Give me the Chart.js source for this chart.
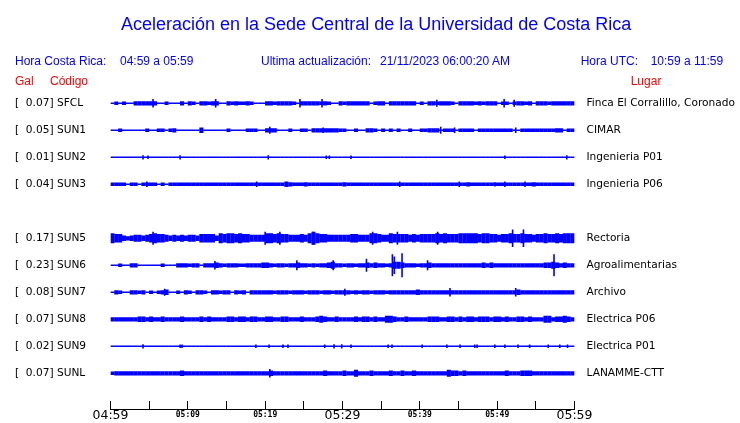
<!DOCTYPE html>
<html>
<head>
<meta charset="utf-8">
<script src="https://cdn.jsdelivr.net/npm/chart.js@4.4.0/dist/chart.umd.min.js"></script>
<style>
html,body{margin:0;padding:0;background:#fff;}
#wrap{position:relative;width:740px;height:423px;overflow:hidden;background:#fff;}
canvas{position:absolute;left:0;top:0;}
.t{position:absolute;white-space:pre;font-family:"Liberation Sans",Arial,sans-serif;font-size:12px;line-height:12px;color:#0000ff;}
.r{color:#ff0000;}
#title{font-size:18px;line-height:18px;}
</style>
</head>
<body>
<div id="wrap">
<canvas id="c" width="740" height="423"></canvas>
<div class="t" id="title" style="left:121px;top:14.8px">Aceleración en la Sede Central de la Universidad de Costa Rica</div>
<div class="t" style="left:15px;top:54.8px">Hora Costa Rica:</div>
<div class="t" style="left:120px;top:54.8px">04:59 a 05:59</div>
<div class="t" style="left:261px;top:54.8px">Ultima actualización:</div>
<div class="t" style="left:380px;top:54.8px">21/11/2023 06:00:20 AM</div>
<div class="t" style="left:580.7px;top:54.8px">Hora UTC:</div>
<div class="t" style="left:650.7px;top:54.8px">10:59 a 11:59</div>
<div class="t r" style="left:15px;top:74.8px">Gal</div>
<div class="t r" style="left:50px;top:74.8px">Código</div>
<div class="t r" style="left:630.7px;top:74.8px">Lugar</div>
</div>
<script>
// ---------------- DATA ----------------
const stationCodes  = ["SFCL","SUN1","SUN2","SUN3","SUN5","SUN6","SUN7","SUN8","SUN9","SUNL"];
const stationPlaces = ["Finca El Corralillo, Coronado","CIMAR","Ingenieria P01","Ingenieria P06","Rectoria","Agroalimentarias","Archivo","Electrica P06","Electrica P01","LANAMME-CTT"];
const galPeaks      = [0.07,0.05,0.01,0.04,0.17,0.23,0.08,0.07,0.02,0.07];
const stationRows   = [0,1,2,3,5,6,7,8,9,10];   // trace slot (slot 4 is empty)

const tickMinutes   = [0,10,20,30,40,50,60];
const tickLabels    = ["04:59","05:09","05:19","05:29","05:39","05:49","05:59"];
const bigTickMinutes = [0,30,60];

const BIN_MINUTES = 0.5; // each envelope value covers half a minute (120 per hour)

// envelope amplitude levels (0..11), one per half-minute
const envSFCL = [1,2,1,2,1,1,3,3,3,3, 3,3,1,1,2,1,1,1,3,1, 3,2,1,3,3,2,3,3,1,1, 3,2,3,2,2,3,2,1,1,1,
                 3,3,2,3,3,3,3,2,1,3, 3,3,3,3,2,3,2,1,1,3, 2,3,3,3,3,3,3,1,2,3, 3,1,3,3,3,3,3,3,3,1,
                 2,1,3,3,2,3,3,3,2,1, 3,3,3,3,2,3,2,3,3,3, 1,2,2,1,2,3,3,2,3,1, 3,3,3,2,3,3,3,3,3,3];
const envSUN1 = [1,1,2,1,1,1,1,1,1,2, 1,1,2,2,1,2,3,1,1,1, 1,1,1,4,1,1,1,1,1,1, 2,1,1,1,1,2,2,2,1,1,
                 3,3,3,1,1,1,2,1,1,2, 2,1,3,3,3,3,3,3,3,2, 2,1,1,2,1,1,3,3,2,1, 2,1,2,1,2,1,1,2,1,1,
                 2,2,3,3,3,1,2,2,2,1, 2,2,2,2,1,2,2,2,2,2, 2,2,2,2,1,1,2,2,2,2, 2,2,2,2,2,3,3,1,2,2];
const envSUN2 = [1,1,1,1,1,1,1,1,1,1, 1,1,1,1,1,1,1,1,1,1, 1,1,1,1,1,1,1,1,1,1, 1,1,1,1,1,1,1,1,1,1,
                 1,1,1,1,1,1,1,1,1,1, 1,1,1,1,1,1,1,1,1,1, 1,1,1,1,1,1,1,1,1,1, 1,1,1,1,1,1,1,1,1,1,
                 1,1,1,1,1,1,1,1,1,1, 1,1,1,1,1,1,1,1,1,1, 1,1,1,1,1,1,1,1,1,1, 1,1,1,1,1,1,1,1,1,1];
const envSUN3 = [2,2,2,2,1,2,2,1,2,2, 2,2,1,2,1,2,2,2,2,2, 2,2,2,2,2,2,2,2,2,2, 2,2,2,2,2,2,2,2,2,2,
                 2,2,2,2,2,4,3,2,2,2, 3,2,2,2,2,2,2,2,2,2, 3,2,2,2,2,2,2,2,2,2, 2,2,2,2,2,2,2,2,2,2,
                 2,2,2,2,2,2,2,2,2,2, 2,2,3,2,2,2,2,2,2,2, 2,2,2,2,2,2,2,2,2,3, 2,2,2,2,2,2,2,2,2,2];
const envSUN5 = [7,6,6,4,3,4,5,5,4,5, 6,7,6,6,5,4,5,4,5,4, 5,5,4,6,6,6,6,4,7,6, 7,7,6,7,6,6,5,5,5,5,
                 7,7,6,7,6,6,5,5,5,6, 5,7,8,7,6,6,5,5,5,5, 5,5,6,6,5,5,5,7,7,6, 5,5,7,6,6,6,6,5,6,5,
                 6,6,6,6,7,6,7,6,6,6, 7,7,7,7,7,6,7,7,6,6, 5,6,6,7,6,6,7,6,6,5, 6,6,7,6,6,7,6,7,7,7];
const envSUN6 = [1,1,2,1,1,3,3,1,1,1, 1,1,1,2,1,1,1,3,3,3, 2,3,3,1,3,3,3,4,3,2, 3,3,3,2,2,3,3,3,3,4,
                 4,3,2,3,3,2,3,3,4,3, 3,2,3,2,3,3,4,5,3,3, 2,3,3,2,3,3,4,3,4,3, 3,2,3,5,5,4,3,3,3,2,
                 3,3,4,3,3,3,3,3,3,3, 3,3,3,3,3,3,4,3,4,3, 3,3,3,3,3,3,3,3,3,3, 3,3,4,4,5,4,3,4,3,3];
const envSUN7 = [1,3,2,1,1,3,3,2,3,1, 2,1,2,3,4,1,1,2,1,3, 2,1,3,3,2,1,3,3,2,3, 3,1,3,2,3,1,3,3,3,3,
                 3,3,2,3,3,3,2,3,3,3, 2,3,3,3,2,3,3,2,3,3, 3,3,2,3,2,3,3,2,3,3, 3,2,3,3,3,3,3,3,3,4,
                 3,3,3,3,3,3,3,3,3,3, 3,3,3,3,3,3,3,3,3,3, 3,3,3,3,3,4,3,3,3,3, 3,3,3,3,3,3,3,3,3,3];
const envSUN8 = [3,3,3,3,3,3,3,4,4,3, 4,3,3,4,3,3,3,3,4,3, 3,3,3,4,3,4,3,3,3,3, 4,4,3,4,4,3,4,4,3,3,
                 4,4,3,3,4,4,3,3,3,4, 3,3,3,4,5,4,3,3,4,3, 3,3,3,4,3,4,4,3,4,3, 3,5,5,4,3,3,4,3,3,3,
                 3,3,4,4,4,3,3,4,4,3, 4,3,4,4,3,4,4,4,3,4, 4,3,4,3,3,4,4,3,4,3, 3,3,5,5,3,4,4,5,4,3];
const envSUN9 = [1,1,1,1,1,1,1,1,1,1, 1,1,1,1,1,1,1,1,1,1, 1,1,1,1,1,1,1,1,1,1, 1,1,1,1,1,1,1,1,1,1,
                 1,1,1,1,1,1,1,1,1,1, 1,1,1,1,1,1,1,1,1,1, 1,1,1,1,1,1,1,1,1,1, 1,1,1,1,1,1,1,1,1,1,
                 1,1,1,1,1,1,1,1,1,1, 1,1,1,1,1,1,1,1,1,1, 1,1,1,1,1,1,1,1,1,1, 1,1,1,1,1,1,1,1,1,1];
const envSUNL = [2,3,3,3,3,3,3,3,3,3, 3,3,3,3,3,3,3,3,4,3, 3,3,3,3,3,3,3,3,3,3, 3,3,3,3,3,3,3,3,3,3,
                 3,4,3,3,3,3,3,3,3,3, 3,3,3,3,3,4,3,3,3,3, 4,3,3,5,3,3,3,4,3,3, 3,3,4,3,3,4,3,3,4,3,
                 3,3,3,3,3,3,3,5,4,4, 3,4,3,3,3,3,3,3,3,3, 3,3,4,3,3,3,4,4,4,3, 3,3,3,3,3,3,3,3,3,3];

// isolated spikes: [minute, amplitude level]
const spkSFCL = [[5.5,6],[13.6,6],[24.5,6],[27.35,6],[42.2,5],[50.9,6],[52.2,5]];
const spkSUN1 = [[20.6,5],[27.5,4],[42.7,5],[44.5,4],[52.4,4]];
const spkSUN2 = [[4.2,3],[4.85,2],[9.0,3],[20.4,3],[27.9,2],[28.3,2],[31.1,2],[51.0,2],[59.0,3]];
const spkSUN3 = [[4.7,4],[18.9,4],[37.4,4],[45.1,4],[49.7,3],[51.0,4],[53.6,4]];
const spkSUN5 = [[5.5,8],[20.0,8],[21.9,8],[26.2,8],[33.9,8],[37.1,8],[42.3,8],[52.0,9],[53.4,9]];
const spkSUN6 = [[13.5,6],[24.1,7],[28.8,7],[33.1,8],[36.45,10],[36.7,9],[37.7,11],[41.0,7],[57.35,10]];
const spkSUN7 = [[7.0,5],[30.3,5],[43.9,6],[52.4,6]];
const spkSUN8 = [];
const spkSUN9 = [[4.2,3],[9.0,2],[9.25,2],[18.8,2],[20.5,2],[22.3,2],[22.95,2],[27.7,2],[28.9,3],[29.9,3],[31.1,2],
                 [35.9,2],[36.4,2],[40.3,2],[43.5,2],[45.2,2],[47.1,2],[47.4,2],[49.7,2],[51.0,2],[52.7,2],[54.2,2],
                 [56.6,2],[58.1,2],[59.1,2]];
const spkSUNL = [[20.6,6]];

const envelopes = [envSFCL,envSUN1,envSUN2,envSUN3,envSUN5,envSUN6,envSUN7,envSUN8,envSUN9,envSUNL];
const spikes    = [spkSFCL,spkSUN1,spkSUN2,spkSUN3,spkSUN5,spkSUN6,spkSUN7,spkSUN8,spkSUN9,spkSUNL];

// ---------------- DISPLAY SCALE ----------------
const LEVEL_HALF = [0,0.7,1.7,2.1,2.8,3.5,4.2,5.0,6.5,8.8,11,12]; // half height of a level, in px of a 27 px slot
const SLOT_PX = 27;
const TRACE = '#0000ff';
function band(level,row){ const h = LEVEL_HALF[level]/SLOT_PX; return [row-h,row+h]; }

const datasets = [];
envelopes.forEach((env,k)=>{
  datasets.push({
    data: env.map((lv,i)=>({x:(i+0.5)*BIN_MINUTES, y:band(lv,stationRows[k])})),
    backgroundColor: TRACE, borderWidth:0, inflateAmount:0,
    grouped:false, categoryPercentage:1, barPercentage:1.06,
    xAxisID:'x', yAxisID:'y'
  });
});
spikes.forEach((sp,k)=>{
  datasets.push({
    data: sp.map(s=>({x:s[0], y:band(s[1],stationRows[k])})),
    backgroundColor: TRACE, borderWidth:0, inflateAmount:0,
    grouped:false, categoryPercentage:1, barPercentage:10, maxBarThickness:1.6,
    xAxisID:'xS', yAxisID:'yR'
  });
});

const Y_MIN = -0.5, Y_MAX = 11.322;
const leftLabel  = r => { const k = stationRows.indexOf(r); return '[' + galPeaks[k].toFixed(2).padStart(6,' ') + '] ' + stationCodes[k]; };
const rightLabel = r => stationPlaces[stationRows.indexOf(r)];
const rowTicks = axis => { axis.ticks = stationRows.map(v=>({value:v})); };
const labelFont = {family:'DejaVu Sans', size:10.6};

new Chart(document.getElementById('c'), {
  type:'bar',
  data:{datasets},
  options:{
    responsive:false, animation:false, events:[],
    layout:{padding:{top:89.8,left:15,right:0,bottom:0}},
    plugins:{legend:{display:false}, tooltip:{enabled:false}, title:{display:false}},
    scales:{
      x:{
        type:'linear', position:'bottom', min:0, max:60, offset:false,
        grid:{display:true, drawOnChartArea:false, drawTicks:true, tickLength:-8, color:'#000', lineWidth:1, offset:false},
        border:{display:true, color:'#000', width:1},
        ticks:{
          stepSize:5, autoSkip:false, maxRotation:0, minRotation:0, padding:11, color:'#000',
          font: ctx => (ctx.tick && bigTickMinutes.includes(ctx.tick.value))
                        ? {family:'DejaVu Sans', size:12.5, lineHeight:'8px'}
                        : {family:'DejaVu Sans Mono', size:8, weight:'bold', lineHeight:'5px'},
          callback: v => { const i = tickMinutes.indexOf(v); return i >= 0 ? tickLabels[i] : ''; }
        },
        afterFit: s => { s.height = 14; }
      },
      xS:{ type:'linear', axis:'x', position:'bottom', min:0, max:60, offset:false, display:false, grid:{offset:false} },
      y:{
        type:'linear', position:'left', min:Y_MIN, max:Y_MAX, reverse:true,
        grid:{display:false, drawTicks:false}, border:{display:false},
        afterBuildTicks: rowTicks,
        ticks:{autoSkip:false, crossAlign:'far', padding:0, color:'#000', font:labelFont, callback: v => leftLabel(v)},
        afterFit: s => { s.width = 95.5; }
      },
      yR:{
        type:'linear', position:'right', min:Y_MIN, max:Y_MAX, reverse:true,
        grid:{display:false, drawTicks:true, tickLength:12}, border:{display:false},
        afterBuildTicks: rowTicks,
        ticks:{autoSkip:false, crossAlign:'near', padding:0, color:'#000', font:labelFont, callback: v => rightLabel(v)},
        afterFit: s => { s.width = 165.5; }
      }
    }
  }
});
</script>
</body>
</html>
